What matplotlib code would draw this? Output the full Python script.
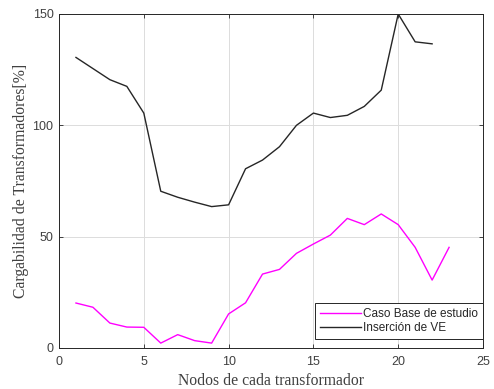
import matplotlib
matplotlib.use("Agg")
import matplotlib.pyplot as plt

nodes_base = list(range(1, 24))
base = [20.2, 18.3, 11.2, 9.4, 9.3, 2.2, 6.0, 3.3, 2.2, 15.3, 20.3, 33.2, 35.3,
        42.5, 46.7, 50.7, 58.2, 55.4, 60.2, 55.4, 45.2, 30.5, 45.2]
nodes_ve = list(range(1, 23))
ve = [130.5, 125.5, 120.5, 117.5, 105.5, 70.4, 67.7, 65.5, 63.5, 64.3, 80.5, 84.4,
      90.4, 100.0, 105.5, 103.5, 104.5, 108.5, 115.8, 150.0, 137.5, 136.6]

xticks = [0, 5, 10, 15, 20, 25]
yticks = [0, 50, 100, 150]

fig = plt.figure(figsize=(4.94, 3.89), dpi=100)
ax = fig.add_axes([59/494, 1-348/389, (483-59)/494, (348-14)/389])

ax.plot(nodes_base, base, color="#ff00ff", lw=1.0, label="Caso Base de estudio")
ax.plot(nodes_ve, ve, color="#262626", lw=1.0, label="Inserción de VE")

ax.set_xlim(0, 25)
ax.set_ylim(0, 150)
ax.set_xticks(xticks)
ax.set_yticks(yticks)
ax.grid(True, color="#dcdcdc", lw=0.7)
ax.set_axisbelow(True)
ax.tick_params(direction="in", top=True, right=True, length=3, width=0.6,
               labelsize=9, colors="#262626", labelcolor="#404040")
ax.tick_params(axis="x", pad=6)
ax.tick_params(axis="y", pad=4)
for lbl in ax.get_xticklabels() + ax.get_yticklabels():
    lbl.set_fontfamily("Liberation Sans")
for s in ax.spines.values():
    s.set_color("#262626")
    s.set_linewidth(0.7)

ax.set_xlabel("Nodos de cada transformador", family="Liberation Serif",
              fontsize=11.3, color="#404040", labelpad=3.5)
ax.set_ylabel("Cargabilidad de Transformadores[%]", family="Liberation Serif",
              fontsize=11.3, color="#404040", labelpad=2.5)

leg = ax.legend(loc="lower right", fancybox=False, edgecolor="#262626",
                framealpha=1, borderaxespad=0.0, bbox_to_anchor=(1.0, 0.027),
                prop={"family": "Liberation Sans", "size": 8.5},
                handlelength=3.5, handletextpad=0.2, borderpad=0.4,
                labelspacing=0.2)
for t in leg.get_texts():
    t.set_color("#262626")
leg.get_frame().set_linewidth(0.7)

fig.savefig("out.png", dpi=100)
